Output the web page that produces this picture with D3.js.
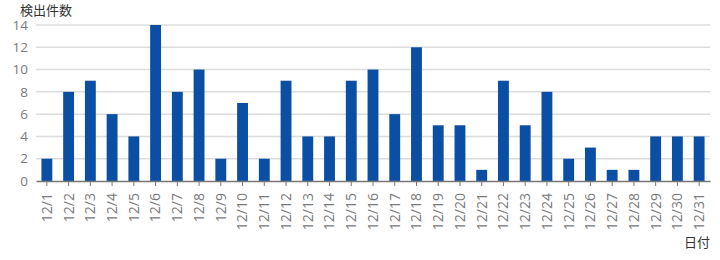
<!DOCTYPE html>
<meta charset="utf-8">
<script src="https://d3js.org/d3.v7.min.js"></script>
<style>
  body { margin: 0; background: #fff; }
  text { font-family: "Open Sans", "Noto Sans CJK JP", sans-serif; }
</style>
<svg width="720" height="260"></svg>
<script>
  const days = d3.range(1, 32).map(d => "12/" + d);
  const counts = [2, 8, 9, 6, 4, 14, 8, 10, 2, 7, 2, 9, 4, 4, 9, 10, 6, 12, 5, 5, 1, 9, 5, 8, 2, 3, 1, 1, 4, 4, 4];
  const yTicks = [0, 2, 4, 6, 8, 10, 12, 14];

  const margin = {top: 25, right: 10, bottom: 79, left: 36},
      width = 720 - margin.left - margin.right,
      height = 260 - margin.top - margin.bottom;

  const svg = d3.select("svg");
  const g = svg.append("g")
      .attr("transform", "translate(" + margin.left + "," + margin.top + ")");

  const x = d3.scaleBand()
      .domain(days)
      .range([0, width])
      .paddingInner(0.5)
      .paddingOuter(0.25);

  const y = d3.scaleLinear()
      .domain([0, 14])
      .range([height, 0]);

  // gridlines
  g.append("g")
      .selectAll("line")
      .data(yTicks.slice(1))
      .enter()
      .append("line")
      .attr("x1", 0)
      .attr("x2", width)
      .attr("y1", d => y(d))
      .attr("y2", d => y(d))
      .attr("stroke", "#dcdcdc")
      .attr("stroke-width", 1.5);

  // y labels
  g.append("g")
      .selectAll("text")
      .data(yTicks)
      .enter()
      .append("text")
      .attr("x", -8)
      .attr("y", d => y(d))
      .attr("dy", "0.35em")
      .attr("text-anchor", "end")
      .attr("fill", "#7a7a7a")
      .style("font-size", "13.5px")
      .text(d => d);

  // bars
  g.append("g")
      .selectAll("rect")
      .data(counts)
      .enter()
      .append("rect")
      .attr("x", (d, i) => x(days[i]))
      .attr("y", d => y(d))
      .attr("width", x.bandwidth())
      .attr("height", d => height - y(d))
      .attr("fill", "#0a4fa3");

  // x axis
  const xAxis = g.append("g")
      .attr("transform", "translate(0," + height + ")")
      .call(d3.axisBottom(x).tickSize(5).tickSizeOuter(0));
  xAxis.select(".domain").attr("stroke", "#777").attr("stroke-width", 1.5);
  xAxis.selectAll(".tick line").attr("stroke", "#777");
  xAxis.selectAll(".tick text")
      .attr("fill", "#7a7a7a")
      .style("font-size", "14px")
      .attr("text-anchor", "end")
      .attr("transform", "rotate(-90)")
      .attr("x", -12)
      .attr("y", 0)
      .attr("dy", "0.35em");

  svg.append("text")
      .attr("x", 20)
      .attr("y", 15)
      .attr("fill", "#333")
      .style("font-size", "13px")
      .text("検出件数");

  svg.append("text")
      .attr("x", 710)
      .attr("y", 247)
      .attr("text-anchor", "end")
      .attr("fill", "#333")
      .style("font-size", "13px")
      .text("日付");
</script>
